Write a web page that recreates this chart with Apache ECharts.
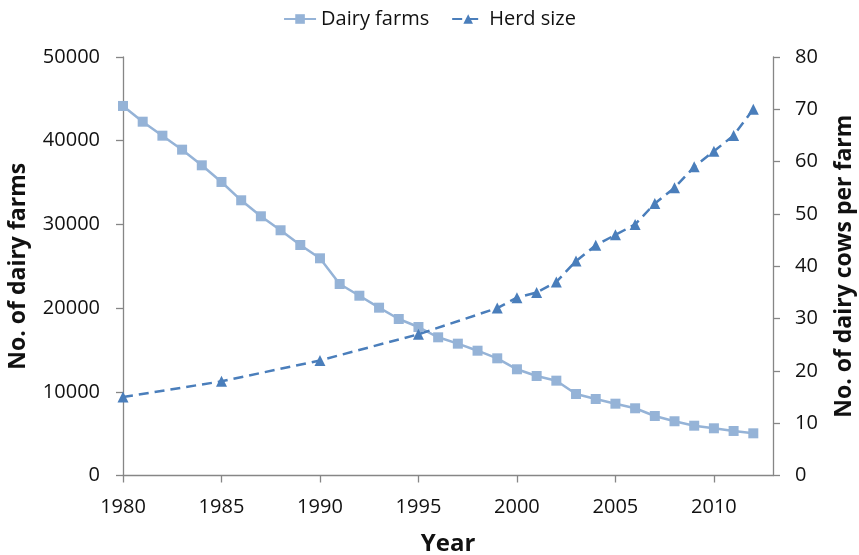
<!DOCTYPE html>
<html>
<head>
<meta charset="utf-8">
<script src="https://cdn.jsdelivr.net/npm/echarts@6/dist/echarts.min.js"></script>
<style>
  html, body { margin: 0; padding: 0; background: #fff; }
  #chart { width: 859px; height: 555px; }
</style>
</head>
<body>
<div id="chart"></div>
<script>
// values
const farmYears = [1980, 1981, 1982, 1983, 1984, 1985, 1986, 1987, 1988, 1989, 1990,
  1991, 1992, 1993, 1994, 1995, 1996, 1997, 1998, 1999, 2000, 2001, 2002, 2003,
  2004, 2005, 2006, 2007, 2008, 2009, 2010, 2011, 2012]
const dairyFarms = [44150, 42270, 40600, 38930, 37060, 35070, 32880, 30970, 29300, 27540, 25950,
  22880, 21480, 20050, 18700, 17740, 16510, 15750, 14910, 14000, 12690, 11890, 11330, 9740,
  9140, 8580, 8030, 7110, 6480, 5950, 5640, 5320, 5040]

const herdYears = [1980, 1985, 1990, 1995, 1999, 2000, 2001, 2002, 2003, 2004, 2005,
  2006, 2007, 2008, 2009, 2010, 2011, 2012]
const herdSize = [15, 18, 22, 27, 32, 34, 35, 37, 41, 44, 46, 48, 52, 55, 59, 62, 65, 70]

const yearTicks = [1980, 1985, 1990, 1995, 2000, 2005, 2010]

const font = '"Open Sans", sans-serif'
const axisGrey = '#868686'
const plain = v => String(v)

const chart = echarts.init(document.getElementById('chart'))

chart.setOption({
  animation: false,
  textStyle: { fontFamily: font, color: '#111' },
  legend: {
    top: 4,
    left: 'center',
    itemWidth: 32,
    itemHeight: 12,
    itemGap: 22,
    textStyle: { fontSize: 20, color: '#111', fontFamily: font },
    data: ['Dairy farms', 'Herd size']
  },
  grid: { left: 123, right: 86, top: 57, bottom: 79.5, containLabel: false, outerBoundsMode: 'none' },
  xAxis: {
    type: 'value',
    min: 1980,
    max: 2013,
    name: 'Year',
    nameLocation: 'middle',
    nameGap: 57,
    nameTextStyle: { fontSize: 24, fontWeight: 'bold', color: '#111' },
    splitLine: { show: false },
    axisLine: { lineStyle: { color: axisGrey, width: 1.3 } },
    axisTick: { customValues: yearTicks, length: 7, lineStyle: { color: axisGrey, width: 1.3 } },
    axisLabel: { customValues: yearTicks, formatter: plain, fontSize: 20, margin: 22, color: '#111' }
  },
  yAxis: [
    {
      type: 'value',
      min: 0,
      max: 50000,
      interval: 10000,
      name: 'No. of dairy farms',
      nameLocation: 'middle',
      nameGap: 93,
      nameTextStyle: { fontSize: 23, fontWeight: 'bold', color: '#111' },
      splitLine: { show: false },
      axisLine: { show: true, lineStyle: { color: axisGrey, width: 1.3 } },
      axisTick: { show: true, length: 7, lineStyle: { color: axisGrey, width: 1.3 } },
      axisLabel: { formatter: plain, fontSize: 20, margin: 23, color: '#111' }
    },
    {
      type: 'value',
      min: 0,
      max: 80,
      interval: 10,
      position: 'right',
      name: 'No. of dairy cows per farm',
      nameLocation: 'middle',
      nameGap: 60,
      nameTextStyle: { fontSize: 23, fontWeight: 'bold', color: '#111' },
      splitLine: { show: false },
      axisLine: { show: true, lineStyle: { color: axisGrey, width: 1.3 } },
      axisTick: { show: true, length: 7, lineStyle: { color: axisGrey, width: 1.3 } },
      axisLabel: { formatter: plain, fontSize: 20, margin: 22, color: '#111' }
    }
  ],
  series: [
    {
      name: 'Dairy farms',
      type: 'line',
      yAxisIndex: 0,
      data: farmYears.map((y, i) => [y, dairyFarms[i]]),
      symbol: 'rect',
      symbolSize: 10,
      color: '#95B3D7',
      lineStyle: { color: '#95B3D7', width: 2.5 },
      itemStyle: { color: '#95B3D7' }
    },
    {
      name: 'Herd size',
      type: 'line',
      yAxisIndex: 1,
      data: herdYears.map((y, i) => [y, herdSize[i]]),
      symbol: 'triangle',
      symbolSize: 11,
      color: '#4A7EBB',
      lineStyle: { color: '#4A7EBB', width: 2.5, type: [10, 6] },
      itemStyle: { color: '#4A7EBB' }
    }
  ]
})
</script>
</body>
</html>
